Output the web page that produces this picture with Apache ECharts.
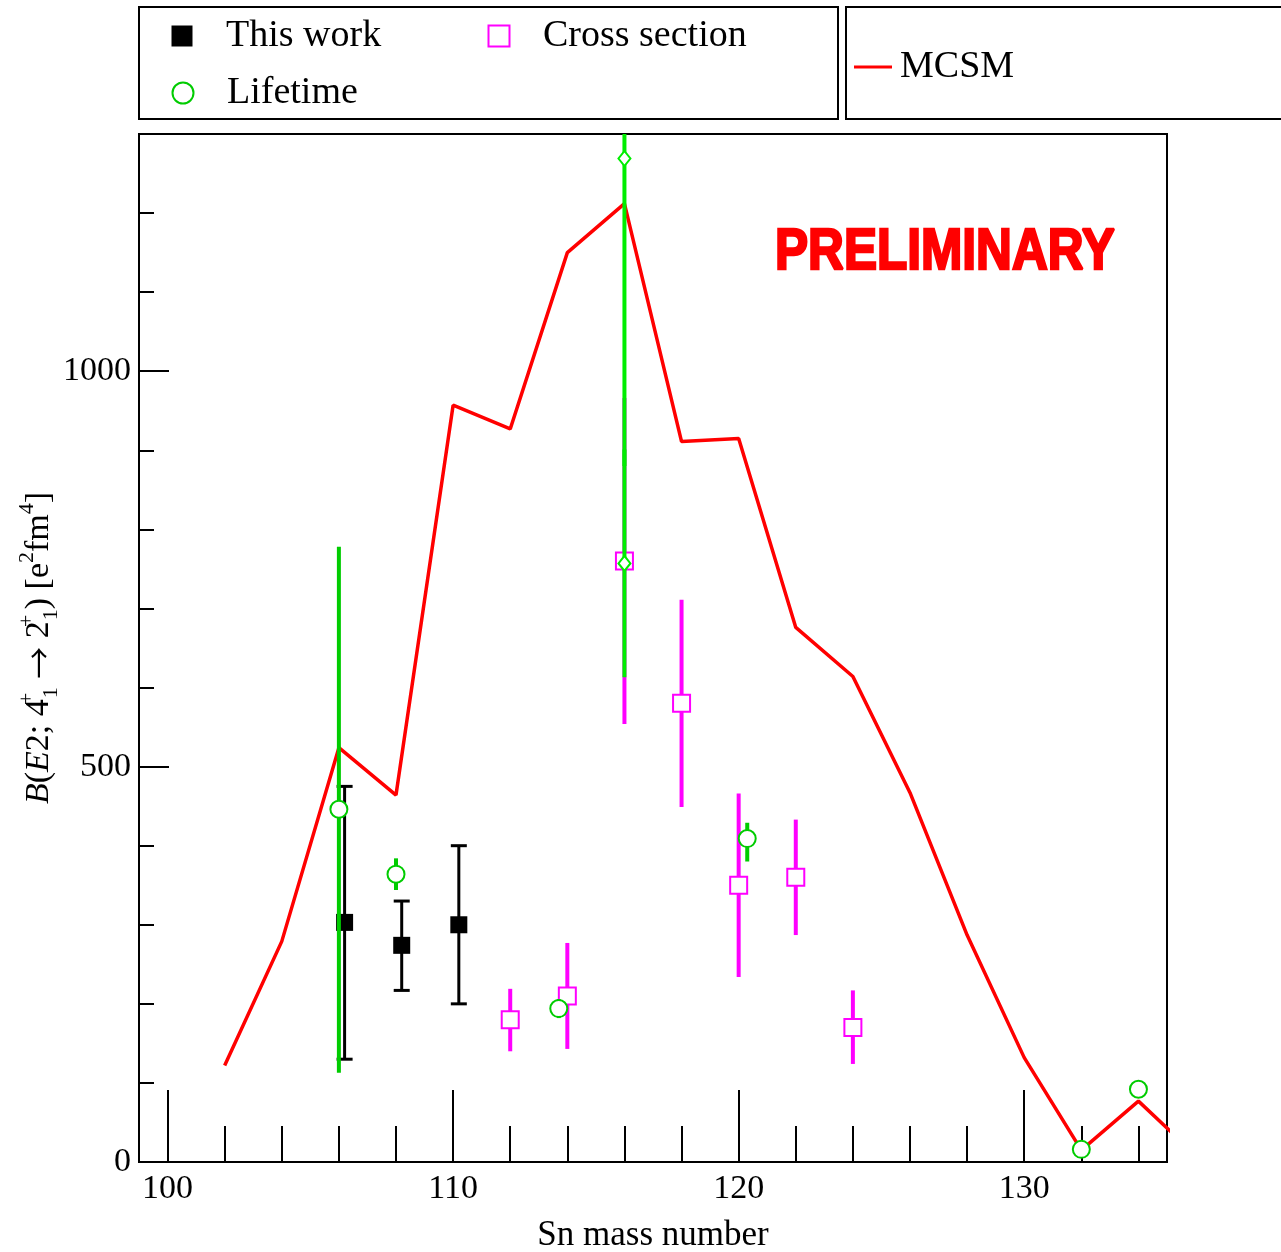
<!DOCTYPE html>
<html><head><meta charset="utf-8">
<script src="https://cdn.jsdelivr.net/npm/echarts@6/dist/echarts.min.js"></script>
<style>html,body{margin:0;padding:0;background:#fff}#c{width:1281px;height:1252px}</style>
</head><body><div id="c"></div>
<script>
// ---- tick positions ----
const xMajorTicks = [100, 110, 120, 130];
const xMinorTicks = [102, 104, 106, 108, 112, 114, 116, 118, 122, 124, 126, 128, 132, 134];
const yMajorTicks = [0, 500, 1000];
const yMinorTicks = [100, 200, 300, 400, 600, 700, 800, 900, 1100, 1200];

// ---- MCSM theory ----
const mcsmX = [102, 104, 106, 108, 110, 112, 114, 116, 118, 120, 122, 124, 126, 128, 130, 132, 134, 136];
const mcsmY = [122, 279, 524, 464, 957, 927, 1150, 1212, 911, 915, 676, 614, 467, 287, 132, 15, 77, 9];

// ---- This work ----
const thisWorkX = [106.2, 108.2, 110.2];
const thisWorkY = [303, 274, 300];
const thisWorkLo = [130, 217, 200];
const thisWorkHi = [475, 330, 400];

// ---- Cross section ----
const crossX = [112, 114, 116, 118, 120, 122, 124];
const crossY = [180, 210, 760, 580, 350, 360, 170];
const crossLo = [140, 143, 554, 449, 234, 287, 124];
const crossHi = [219, 277, 966, 711, 466, 433, 217];

// ---- Lifetime ----
const lifeX = [106, 108, 113.7, 120.3, 132, 134];
const lifeY = [446, 364, 194, 409, 16, 92];
const lifeLo = [113, 344, 182, 380, 16, 92];
const lifeHi = [778, 384, 206, 429, 16, 92];

// ---- other (diamonds at A=116) ----
const otherX = [116, 116];
const otherY = [1269, 757];
const otherLo = [880, 613];
const otherHi = [1500, 901];

const FONT = 'Liberation Serif';
const GREEN = '#00cc00';
const GREEN2 = '#00ee00';

function zip2(a, b) { return a.map((v, i) => [v, b[i]]); }
function zip3(a, b, c) { return a.map((v, i) => [v, b[i], c[i]]); }

function errBar(color, width, capHalf) {
  return function (params, api) {
    const x = api.value(0), lo = api.value(1), hi = api.value(2);
    const p1 = api.coord([x, lo]), p2 = api.coord([x, hi]);
    const st = { stroke: color, lineWidth: width };
    const ch = [{ type: 'line', shape: { x1: p1[0], y1: p1[1], x2: p2[0], y2: p2[1] }, style: st }];
    if (capHalf) {
      ch.push({ type: 'line', shape: { x1: p1[0] - capHalf, y1: p1[1], x2: p1[0] + capHalf, y2: p1[1] }, style: st });
      ch.push({ type: 'line', shape: { x1: p2[0] - capHalf, y1: p2[1], x2: p2[0] + capHalf, y2: p2[1] }, style: st });
    }
    return { type: 'group', children: ch };
  };
}

const chart = echarts.init(document.getElementById('c'), null, { renderer: 'canvas' });

function legendText(padLeft) {
  return { fontFamily: FONT, fontSize: 38, color: '#000', padding: [0, 0, 0, padLeft] };
}

const option = {
  backgroundColor: '#fff',
  animation: false,
  grid: { left: 139, right: 114, top: 134, bottom: 90, outerBoundsMode: 'none', containLabel: false,
          show: true, borderColor: '#000', borderWidth: 2, backgroundColor: 'transparent' },
  legend: [
    { data: ['This work'], left: 171.5, top: 17, padding: 0, itemWidth: 21, itemHeight: 21, textStyle: legendText(28.5), selectedMode: false },
    { data: ['Cross section'], left: 487.5, top: 17, padding: 0, itemWidth: 21, itemHeight: 21, textStyle: legendText(28.5), selectedMode: false },
    { data: ['Lifetime'], left: 171.5, top: 74, padding: 0, itemWidth: 21, itemHeight: 21, textStyle: legendText(28.5), selectedMode: false },
    { data: [{ name: 'MCSM', icon: 'rect' }], left: 854, top: 48, padding: 0, itemWidth: 38, itemHeight: 3,
      itemStyle: { color: '#ff0000' }, textStyle: legendText(3), selectedMode: false }
  ],
  graphic: [
    { type: 'rect', shape: { x: 139, y: 7, width: 699, height: 112 }, style: { fill: 'none', stroke: '#000', lineWidth: 2 }, z: 100 },
    { type: 'rect', shape: { x: 846, y: 7, width: 460, height: 112 }, style: { fill: 'none', stroke: '#000', lineWidth: 2 }, z: 100 },
    { type: 'text', x: 775, y: 253, scaleX: 0.855, z: 100,
      style: { text: 'PRELIMINARY', font: 'bold 58px "Liberation Sans"', fill: '#ff0000', stroke: '#ff0000', lineWidth: 2.5, textVerticalAlign: 'middle' } }
  ],
  xAxis: [
    {
      type: 'value', min: 99, max: 135, position: 'bottom',
      axisLine: { show: true, lineStyle: { color: '#000', width: 2 } },
      axisTick: { show: true, inside: true, length: 72, customValues: xMajorTicks, lineStyle: { color: '#000', width: 2 } },
      axisLabel: { customValues: xMajorTicks, formatter: v => String(v), fontFamily: FONT, fontSize: 34, color: '#000', margin: 10 },
      splitLine: { show: false },
      name: 'Sn mass number', nameLocation: 'middle', nameGap: 56, nameMoveOverlap: false,
      nameTextStyle: { fontFamily: FONT, fontSize: 35, color: '#000' }
    },
    {
      type: 'value', min: 99, max: 135, position: 'bottom',
      axisLine: { show: false },
      axisTick: { show: true, inside: true, length: 36, customValues: xMinorTicks, lineStyle: { color: '#000', width: 2 } },
      axisLabel: { show: false },
      splitLine: { show: false }
    }
  ],
  yAxis: [
    {
      type: 'value', min: 0, max: 1300, position: 'left',
      axisLine: { show: true, lineStyle: { color: '#000', width: 2 } },
      axisTick: { show: true, inside: true, length: 30, customValues: yMajorTicks, lineStyle: { color: '#000', width: 2 } },
      axisLabel: { customValues: yMajorTicks, formatter: v => String(v), fontFamily: FONT, fontSize: 34, color: '#000', margin: 8 },
      splitLine: { show: false },
      name: '{i|B}({i|E}2; 4{sups|+}{sub|1} {ar|→} 2{sups|+}{sub|1}) [e{sup|2}fm{sup|4}]',
      nameLocation: 'middle', nameRotate: 90, nameGap: 77, nameMoveOverlap: false,
      nameTextStyle: {
        fontFamily: FONT, fontSize: 34, color: '#000', lineHeight: 46,
        rich: {
          i: { fontFamily: FONT, fontSize: 34, fontStyle: 'italic', color: '#000', lineHeight: 46 },
          ar: { fontFamily: 'Noto Sans CJK JP', fontSize: 32, color: '#000', lineHeight: 46 },
          sup: { fontFamily: FONT, fontSize: 22, color: '#000', verticalAlign: 'top', lineHeight: 24 },
          sups: { fontFamily: FONT, fontSize: 22, color: '#000', verticalAlign: 'top', lineHeight: 24, width: 1 },
          sub: { fontFamily: FONT, fontSize: 22, color: '#000', verticalAlign: 'bottom', lineHeight: 24 }
        }
      }
    },
    {
      type: 'value', min: 0, max: 1300, position: 'left',
      axisLine: { show: false },
      axisTick: { show: true, inside: true, length: 15, customValues: yMinorTicks, lineStyle: { color: '#000', width: 2 } },
      axisLabel: { show: false },
      splitLine: { show: false }
    }
  ],
  series: [
    {
      name: 'MCSM', type: 'line', data: zip2(mcsmX, mcsmY), symbol: 'none', clip: true,
      lineStyle: { color: '#ff0000', width: 3.5 }, itemStyle: { color: '#ff0000' }, z: 2
    },
    {
      type: 'custom', name: 'twErr', data: zip3(thisWorkX, thisWorkLo, thisWorkHi),
      encode: { x: 0, y: [1, 2] }, renderItem: errBar('#000', 3, 8), clip: true, z: 3
    },
    {
      name: 'This work', type: 'scatter', data: zip2(thisWorkX, thisWorkY), symbol: 'rect', symbolSize: 17,
      itemStyle: { color: '#000', opacity: 1 }, z: 4
    },
    {
      type: 'custom', name: 'csErr', data: zip3(crossX, crossLo, crossHi),
      encode: { x: 0, y: [1, 2] }, renderItem: errBar('#ff00ff', 4, 0), clip: true, z: 5
    },
    {
      name: 'Cross section', type: 'scatter', data: zip2(crossX, crossY), symbol: 'rect', symbolSize: 17,
      itemStyle: { color: '#fff', borderColor: '#ff00ff', borderWidth: 2, opacity: 1 }, z: 6
    },
    {
      type: 'custom', name: 'ltErr', data: zip3(lifeX, lifeLo, lifeHi),
      encode: { x: 0, y: [1, 2] }, renderItem: errBar(GREEN, 4, 0), clip: true, z: 7
    },
    {
      name: 'Lifetime', type: 'scatter', data: zip2(lifeX, lifeY), symbol: 'circle', symbolSize: 17,
      itemStyle: { color: '#fff', borderColor: GREEN, borderWidth: 2, opacity: 1 }, z: 8
    },
    {
      type: 'custom', name: 'otErr', data: zip3(otherX, otherLo, otherHi),
      encode: { x: 0, y: [1, 2] }, renderItem: errBar(GREEN2, 4, 0), clip: true, z: 9
    },
    {
      name: 'other', type: 'scatter', data: zip2(otherX, otherY), symbol: 'diamond', symbolSize: [12, 15],
      itemStyle: { color: '#fff', borderColor: GREEN2, borderWidth: 2, opacity: 1 }, z: 10
    }
  ]
};
chart.setOption(option);
</script>
</body></html>
